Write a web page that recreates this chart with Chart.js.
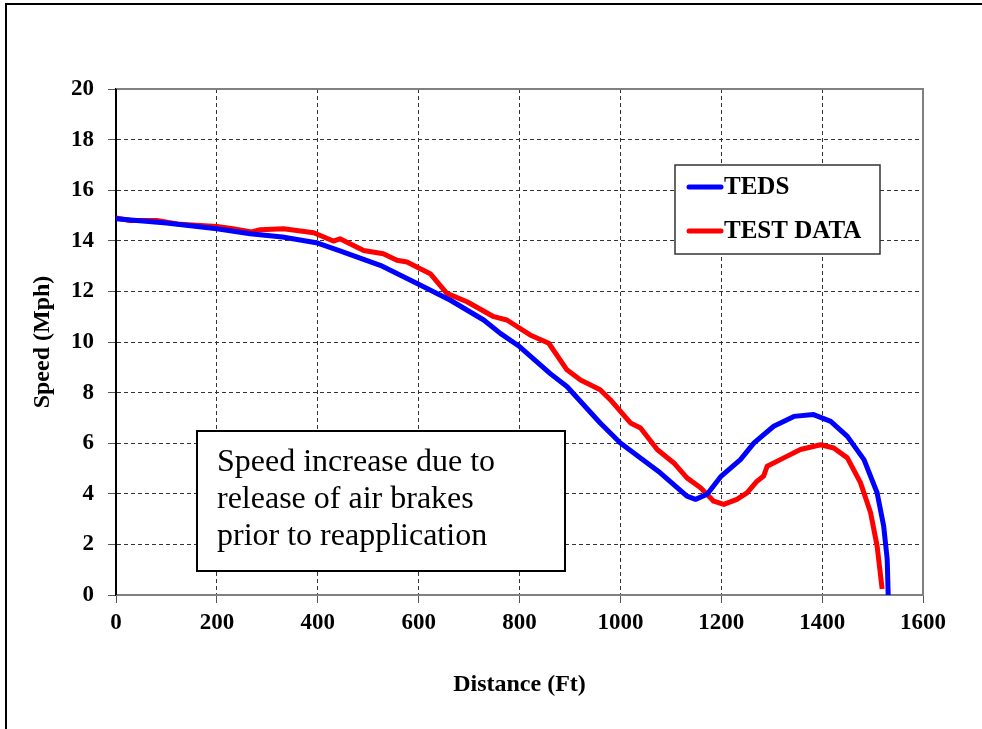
<!DOCTYPE html>
<html>
<head>
<meta charset="utf-8">
<script src="https://cdn.jsdelivr.net/npm/chart.js@4.4.1/dist/chart.umd.min.js"></script>
<style>
    body { margin:0; background:#fff; }
    #wrap { width:982px; height:729px; }
</style>
</head>
<body>
<div id="wrap"><canvas id="line-chart1" width="982" height="729"></canvas></div>
<script>
    // TEDS (simulation)
    const tedsDist  = [0,100,200,266,330,400,444,524,597,663,729,762,800,861,894,960,1000,1079,1132,1149,1172,1200,1238,1265,1304,1344,1383,1417,1450,1483,1509,1522,1529,1531];
    const tedsSpeed = [14.87,14.70,14.48,14.28,14.15,13.91,13.60,13.03,12.31,11.65,10.87,10.34,9.82,8.75,8.24,6.80,6.01,4.83,3.91,3.78,3.98,4.70,5.35,6.01,6.67,7.06,7.13,6.86,6.27,5.35,4.04,2.73,1.42,0];

    // TEST DATA
    const testDist  = [0,28,81,127,200,232,269,286,332,392,431,444,491,530,557,577,623,656,696,749,775,821,858,894,921,960,980,1020,1040,1073,1106,1132,1159,1185,1205,1231,1251,1271,1284,1291,1324,1357,1397,1423,1450,1476,1496,1509,1519];
    const testSpeed = [14.9,14.8,14.8,14.65,14.57,14.48,14.35,14.44,14.48,14.32,13.99,14.08,13.62,13.49,13.23,13.16,12.70,11.92,11.59,11.0,10.87,10.28,9.95,8.90,8.50,8.11,7.72,6.80,6.60,5.75,5.22,4.63,4.24,3.71,3.58,3.78,4.04,4.50,4.70,5.09,5.42,5.75,5.94,5.81,5.42,4.44,3.26,1.94,0.24];

    const seriesNames = ['TEDS','TEST DATA'];
    const seriesColors = ['#0000ff','#ff0000'];
    const noteLines = ['Speed increase due to','release of air brakes','prior to reapplication'];

    const serif = "'Liberation Serif', 'Times New Roman', serif";

    function toPoints(xs, ys){
        return xs.map((x,i) => ({x:x, y:ys[i]}));
    }

    // white page, frame lines, plot border, legend and note box
    const pagePlugin = {
        id:'page',
        beforeDraw(chart){
            const c = chart.ctx;
            c.save();
            c.fillStyle = '#fff';
            c.fillRect(0,0,chart.width,chart.height);
            c.strokeStyle = '#000';
            c.lineWidth = 2;
            c.beginPath();
            c.moveTo(6,729); c.lineTo(6,4); c.lineTo(982,4);
            c.stroke();
            c.restore();
        },
        beforeDatasetsDraw(chart){
            const a = chart.chartArea, c = chart.ctx;
            c.save();
            c.strokeStyle = '#808080';
            c.lineWidth = 2;
            c.beginPath();
            c.moveTo(a.left,a.top); c.lineTo(a.right,a.top); c.lineTo(a.right,a.bottom); c.lineTo(a.left,a.bottom);
            c.stroke();
            c.strokeStyle = '#000';
            c.beginPath();
            c.moveTo(a.left,a.top); c.lineTo(a.left,a.bottom);
            c.stroke();
            c.restore();
        },
        afterDraw(chart){
            const c = chart.ctx;
            c.save();
            // legend box
            c.fillStyle = '#fff';
            c.fillRect(675,165,205,89);
            c.strokeStyle = '#333';
            c.lineWidth = 1.5;
            c.strokeRect(675,165,205,89);
            c.font = 'bold 25px ' + serif;
            c.textBaseline = 'middle';
            c.lineCap = 'round';
            const ly = [187,231];
            seriesNames.forEach((n,i) => {
                c.strokeStyle = seriesColors[i];
                c.lineWidth = 5;
                c.beginPath();
                c.moveTo(689,ly[i]); c.lineTo(721,ly[i]);
                c.stroke();
                c.fillStyle = '#000';
                c.fillText(n,724,ly[i]+1);
            });
            // note box
            c.fillStyle = '#fff';
            c.fillRect(197,431,368,140);
            c.strokeStyle = '#000';
            c.lineWidth = 2;
            c.strokeRect(197,431,368,140);
            c.fillStyle = '#000';
            c.font = '32px ' + serif;
            c.textBaseline = 'alphabetic';
            noteLines.forEach((t,i) => c.fillText(t,217,471 + i*37));
            c.restore();
        }
    };

    let lineChart1 = document.getElementById('line-chart1');
    let myLineChart1 = new Chart(lineChart1, {
        type:'line',
        data:{
            datasets:[
                {
                    label:seriesNames[0],
                    data:toPoints(tedsDist,tedsSpeed),
                    borderColor:seriesColors[0],
                    borderWidth:5
                },
                {
                    label:seriesNames[1],
                    data:toPoints(testDist,testSpeed),
                    borderColor:seriesColors[1],
                    borderWidth:5
                }
            ]
        },
        plugins:[pagePlugin],
        options:{
            responsive:false,
            animation:false,
            layout:{ padding:{ left:0, top:89, right:59, bottom:0 } },
            elements:{ point:{ radius:0 }, line:{ tension:0, borderCapStyle:'butt', borderJoinStyle:'round' } },
            plugins:{ legend:{ display:false }, tooltip:{ enabled:false } },
            scales:{
                x:{
                    type:'linear',
                    min:0, max:1600,
                    ticks:{ stepSize:200, color:'#000', padding:6, maxRotation:0, callback:(v) => String(v), font:{ family:serif, size:23, weight:'bold' } },
                    grid:{ color:'#333', lineWidth:1, tickLength:8, tickColor:'#555' },
                    border:{ color:'#808080', width:2, dash:[4,3] },
                    title:{ display:true, text:'Distance (Ft)', color:'#000', padding:{ top:0, bottom:30 }, font:{ family:serif, size:24, weight:'bold' } },
                    afterFit(s){ s.height = 134; }
                },
                y:{
                    min:0, max:20,
                    ticks:{ stepSize:2, color:'#000', padding:14, font:{ family:serif, size:23, weight:'bold' } },
                    grid:{ color:'#333', lineWidth:1, tickLength:8, tickColor:'#555' },
                    border:{ color:'#000', width:2, dash:[4,3] },
                    title:{ display:true, text:'Speed (Mph)', color:'#000', padding:{ top:28, bottom:0 }, font:{ family:serif, size:24, weight:'bold' } },
                    afterFit(s){ s.width = 116; }
                }
            }
        }
    });
</script>
</body>
</html>
